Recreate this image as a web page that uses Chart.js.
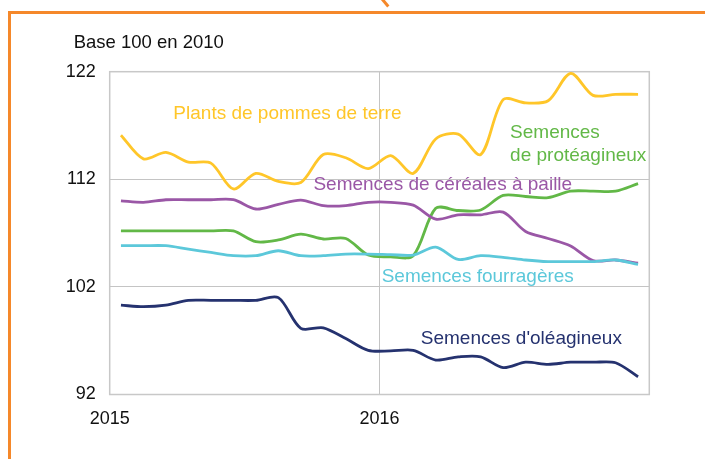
<!DOCTYPE html>
<html lang="fr">
<head>
<meta charset="utf-8">
<script src="https://cdn.jsdelivr.net/npm/chart.js@4/dist/chart.umd.min.js"></script>
<style>
  html, body { margin: 0; padding: 0; background: #fff; }
  #wrap { position: relative; width: 705px; height: 459px; overflow: hidden; }
  #wrap canvas { position: absolute; left: 0; top: 0; }
  .orange { position: absolute; background: #F5882A; }
  #frame-top  { left: 8px; top: 11px; width: 697px; height: 2.5px; }
  #frame-left { left: 8px; top: 11px; width: 2.5px; height: 448px; }
  #frame-hook { left: 382.8px; top: -4px; width: 2.5px; height: 12px; transform: rotate(-40deg); }
</style>
</head>
<body>
<div id="wrap">
  <canvas id="seeds" width="705" height="459"></canvas>
  <div class="orange" id="frame-top"></div>
  <div class="orange" id="frame-left"></div>
  <div class="orange" id="frame-hook"></div>
</div>
<script>
// ── Data: monthly index, base 100 en 2010 (janv. 2015 → déc. 2016) ──
const MONTHS = [
  '2015-01', '2015-02', '2015-03', '2015-04', '2015-05', '2015-06',
  '2015-07', '2015-08', '2015-09', '2015-10', '2015-11', '2015-12',
  '2016-01', '2016-02', '2016-03', '2016-04', '2016-05', '2016-06',
  '2016-07', '2016-08', '2016-09', '2016-10', '2016-11', '2016-12'
];

const POMMES_DE_TERRE = [
  116.1, 113.9, 114.5, 113.6, 113.5, 111.1, 112.55, 111.8, 111.7, 114.3, 114.0, 113.0,
  114.2, 112.55, 115.75, 116.2, 114.3, 119.4, 119.1, 119.3, 121.85, 119.8, 119.9, 119.9
];
const CEREALES = [
  110.0, 109.86, 110.1, 110.1, 110.1, 110.1, 109.24, 109.67, 110.07, 109.55, 109.55, 109.86,
  109.86, 109.6, 108.3, 108.7, 108.7, 108.95, 107.15, 106.5, 105.8, 104.45, 104.5, 104.2
];
const PROTEAGINEUX = [
  107.2, 107.2, 107.2, 107.2, 107.2, 107.2, 106.2, 106.36, 106.9, 106.45, 106.5, 104.96,
  104.8, 104.9, 109.3, 109.1, 109.15, 110.5, 110.4, 110.3, 110.9, 110.9, 110.9, 111.6
];
const FOURRAGERES = [
  105.83, 105.83, 105.83, 105.5, 105.2, 104.9, 104.9, 105.36, 104.9, 104.9, 105.05, 105.05,
  105.0, 104.96, 105.7, 104.55, 104.9, 104.75, 104.5, 104.35, 104.35, 104.35, 104.5, 104.1
];
const OLEAGINEUX = [
  100.3, 100.16, 100.3, 100.75, 100.75, 100.75, 100.75, 101.0, 98.15, 98.2, 97.2, 96.1,
  96.05, 96.1, 95.2, 95.5, 95.5, 94.5, 95.0, 94.8, 95.0, 95.0, 94.95, 93.65
];

const X_TICKS = [2015, 2016];
const Y_TICKS = [92, 102, 112, 122];

// ── Colour tokens ──
const C_YELLOW = '#FFC629';
const C_PURPLE = '#9A57A6';
const C_GREEN  = '#62B847';
const C_CYAN   = '#5CC8DA';
const C_NAVY   = '#25326F';
const C_GRID   = '#C4C4C4';
const C_FRAME  = '#C8C8C8';
const C_TEXT   = '#111111';
const FONT     = '"Liberation Sans", Arial, sans-serif';

// month index → position on the year axis (mid-month)
const xOf = i => 2015 + (i + 0.5) / 12;
const toPoints = values => values.map((v, i) => ({ x: xOf(i), y: v }));

// ── In-plot labels (anchored in data units: year, index value) ──
const SERIES_LABELS = [
  { lines: ['Plants de pommes de terre'], color: C_YELLOW, x: 2015.236, y: 117.6 },
  { lines: ['Semences', 'de protéagineux'], color: C_GREEN, x: 2016.484, y: 115.87 },
  { lines: ['Semences de céréales à paille'], color: C_PURPLE, x: 2015.755, y: 111.05 },
  { lines: ['Semences fourragères'], color: C_CYAN, x: 2016.008, y: 102.43 },
  { lines: ["Semences d'oléagineux"], color: C_NAVY, x: 2016.153, y: 96.67 },
];

const framePlugin = {
  id: 'plotFrame',
  beforeDatasetsDraw(chart) {
    const { ctx, chartArea: a } = chart;
    ctx.save();
    ctx.strokeStyle = C_FRAME;
    ctx.lineWidth = 1.5;
    ctx.strokeRect(a.left, a.top, a.right - a.left, a.bottom - a.top);
    ctx.restore();
  }
};

const labelPlugin = {
  id: 'seriesLabels',
  afterDatasetsDraw(chart) {
    const { ctx, chartArea: a, scales } = chart;
    ctx.save();
    ctx.textBaseline = 'alphabetic';
    ctx.textAlign = 'left';
    ctx.font = '19px ' + FONT;
    SERIES_LABELS.forEach(l => {
      const px = scales.x.getPixelForValue(l.x);
      const py = scales.y.getPixelForValue(l.y);
      ctx.fillStyle = l.color;
      l.lines.forEach((t, k) => ctx.fillText(t, px, py + k * 23));
    });
    // unit caption above the plot
    ctx.fillStyle = C_TEXT;
    ctx.font = '18.5px ' + FONT;
    ctx.fillText('Base 100 en 2010', a.left - 36, a.top - 23.4);
    ctx.restore();
  }
};

function line(label, values, color, order) {
  return {
    label,
    data: toPoints(values),
    borderColor: color,
    backgroundColor: color,
    borderWidth: 2.8,
    pointRadius: 0,
    tension: 0.3,
    fill: false,
    order,
  };
}

new Chart(document.getElementById('seeds'), {
  type: 'line',
  data: {
    datasets: [
      line('Semences fourragères', FOURRAGERES, C_CYAN, 1),
      line('Semences de céréales à paille', CEREALES, C_PURPLE, 2),
      line('Semences de protéagineux', PROTEAGINEUX, C_GREEN, 3),
      line('Plants de pommes de terre', POMMES_DE_TERRE, C_YELLOW, 4),
      line("Semences d'oléagineux", OLEAGINEUX, C_NAVY, 5),
    ]
  },
  options: {
    responsive: false,
    animation: false,
    devicePixelRatio: 1,
    layout: { padding: { left: 59.7, top: 71.7, right: 55.7, bottom: 24.5 } },
    plugins: { legend: { display: false }, tooltip: { enabled: false } },
    scales: {
      x: {
        type: 'linear',
        min: X_TICKS[0],
        max: X_TICKS[0] + 2,
        afterFit: s => { s.height = 40; },
        border: { display: false },
        grid: {
          drawTicks: false,
          lineWidth: 1,
          color: c => (c.tick && c.tick.value === X_TICKS[1]) ? C_GRID : 'transparent',
        },
        ticks: {
          stepSize: 1,
          padding: 14,
          color: C_TEXT,
          font: { size: 18, family: FONT },
          maxRotation: 0,
          callback: v => X_TICKS.includes(v) ? String(v) : '',
        }
      },
      y: {
        min: Y_TICKS[0],
        max: Y_TICKS[Y_TICKS.length - 1],
        afterFit: s => { s.width = 50; },
        border: { display: false },
        grid: {
          drawTicks: false,
          lineWidth: 1,
          color: c => (c.tick && Y_TICKS.slice(1, -1).includes(c.tick.value)) ? C_GRID : 'transparent',
        },
        ticks: {
          stepSize: 10,
          padding: 14,
          color: C_TEXT,
          font: { size: 18, family: FONT },
        }
      }
    }
  },
  plugins: [framePlugin, labelPlugin]
});
</script>
</body>
</html>
